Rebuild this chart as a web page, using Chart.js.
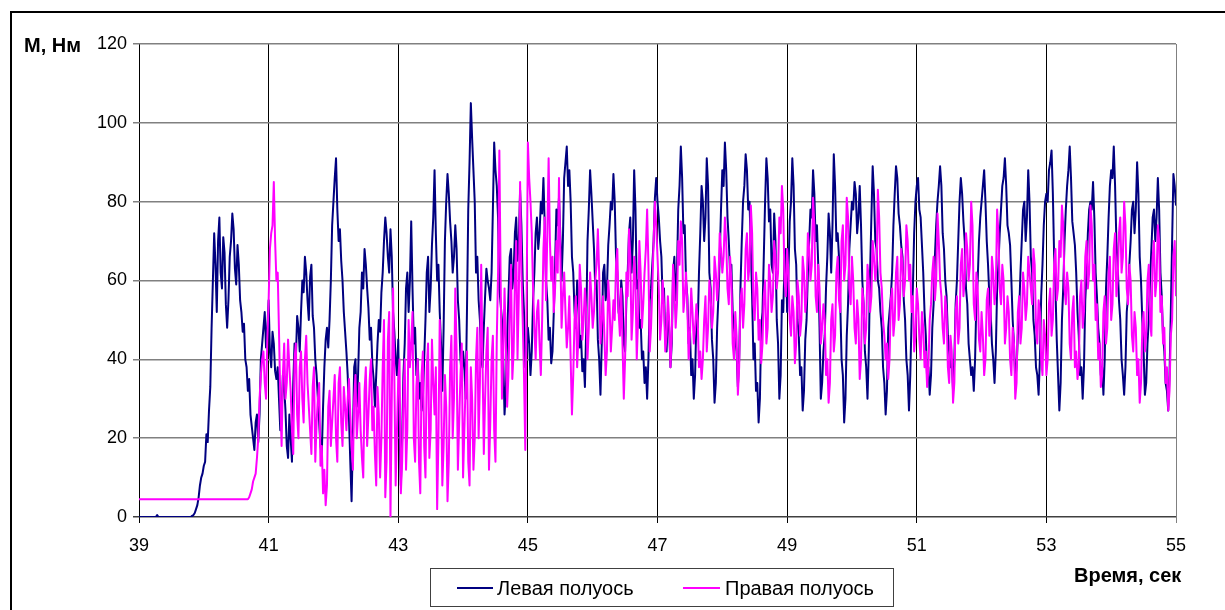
<!DOCTYPE html>
<html>
<head>
<meta charset="utf-8">
<script src="https://cdn.jsdelivr.net/npm/chart.js@4/dist/chart.umd.min.js"></script>
<style>
  html, body { margin:0; padding:0; background:#fff; }
  #wrap { width:1225px; height:610px; }
</style>
</head>
<body>
<div id="wrap"><canvas id="chart" width="1225" height="610"></canvas></div>
<script>
// Torque on the two half-axles, 39..55 s, about one sample every 0.02 s
const TIME_START = 39;
const TIME_END = 55;
const X_TICKS = [39, 41, 43, 45, 47, 49, 51, 53, 55];
const Y_TICKS = [0, 20, 40, 60, 80, 100, 120];
const SERIES_NAMES = ['Левая полуось', 'Правая полуось'];
const Y_TITLE = 'M, Нм';
const X_TITLE = 'Время, сек';

// Левая полуось (one line per second)
const leftAxle = [
  0,0,0,0,0,0,0,0,0,0,0,0,0,0,0.5,0,0,0,0,0,0,0,0,0,0,0,0,0,0,0,0,0,0,0,0,0,0,0,0,0,0,0.3,0.5,1,2,3,5,8,10,11, // 39
  13,14,21,19,27,33,48,60,72,64,52,70,76,62,58,71,67,54,48,55,66,70,77,73,63,59,69,64,55,52,47,49,40,38,32,35,26,23,20,17,24,26,19,26,40,44,48,52,43,48, // 40
  55,42,38,47,44,37,35,38,30,22,25,36,33,27,18,15,26,20,14,34,44,40,51,48,42,52,60,57,66,62,55,50,61,64,51,48,40,36,30,24,18,16,28,38,45,48,43,50,60,74, // 41
  80,86,91,78,70,73,65,60,52,47,42,36,25,14,4,20,38,40,28,36,48,52,62,58,68,64,58,53,45,48,39,35,28,36,44,50,47,57,62,70,76,72,66,62,73,66,52,47,40,36, // 42
  45,22,8,20,36,44,58,62,52,60,75,58,44,48,36,40,30,34,27,30,40,50,62,66,52,58,69,76,88,72,60,64,52,44,32,48,70,80,87,82,75,70,62,66,74,68,55,50,40,36, // 43
  42,38,30,52,78,90,105,96,88,80,62,66,55,50,40,38,48,56,63,60,58,55,62,78,95,88,84,76,58,54,50,40,26,32,45,56,66,68,58,62,72,76,65,70,83,74,60,52,38,42, // 44
  48,44,36,42,55,62,72,76,68,72,80,77,86,74,60,55,45,48,39,42,52,64,78,74,81,72,60,70,86,90,94,84,88,80,66,62,52,48,60,55,43,46,37,40,33,48,70,78,88,82, // 45
  75,68,58,60,45,40,31,44,62,64,55,58,69,74,80,78,87,80,66,62,52,50,60,56,44,42,55,62,72,76,62,70,88,78,58,60,48,50,40,42,34,38,30,40,55,58,64,70,81,86, // 46
  80,76,70,66,55,58,45,42,52,48,38,44,62,66,55,62,78,84,94,86,72,74,60,56,44,48,36,40,30,36,50,48,62,72,84,80,70,76,91,84,62,58,45,40,29,34,48,56,66,78, // 47
  88,84,95,88,76,70,62,64,52,48,45,42,33,40,58,70,80,84,92,88,78,80,68,56,40,44,32,34,24,30,48,52,66,80,91,86,75,78,64,62,77,70,50,44,30,36,55,52,65,68, // 48
  52,62,75,80,91,84,68,64,50,46,36,38,27,32,45,50,62,70,78,76,88,82,70,74,64,48,30,34,42,46,58,66,77,72,62,74,92,84,70,72,66,54,40,36,24,30,46,54,68,74, // 49
  80,78,85,82,72,76,84,74,60,54,42,38,30,42,62,76,89,82,70,68,60,58,52,48,38,34,26,32,48,52,56,62,74,82,89,86,77,74,69,66,55,50,40,36,27,36,50,58,72,80, // 50
  84,86,78,76,69,62,52,46,35,38,31,36,48,54,66,74,80,84,89,84,72,68,60,56,46,42,38,40,32,40,54,60,70,80,86,82,75,70,58,54,44,40,36,38,32,40,55,60,70,76, // 51
  80,84,88,80,70,64,56,52,44,40,34,42,58,64,72,78,84,86,91,84,74,72,69,60,50,44,35,38,46,52,62,70,78,80,70,76,88,80,66,62,50,46,38,36,31,40,56,64,74,80, // 52
  82,80,88,90,93,82,66,58,45,36,27,34,50,58,70,78,84,88,94,86,75,72,69,62,52,46,36,38,30,38,55,62,72,78,80,78,85,76,62,56,48,44,36,38,31,40,58,66,76,84, // 53
  88,86,94,84,70,64,55,50,40,36,31,38,52,56,64,70,78,80,72,78,90,82,66,60,50,42,31,34,44,50,60,68,76,78,70,76,86,78,62,56,46,42,34,32,27,36,52,70,87,84, // 54
  79 // 55
];

// Правая полуось
const rightAxle = [
  4.5,4.5,4.5,4.5,4.5,4.5,4.5,4.5,4.5,4.5,4.5,4.5,4.5,4.5,4.5,4.5,4.5,4.5,4.5,4.5,4.5,4.5,4.5,4.5,4.5,
  4.5,4.5,4.5,4.5,4.5,4.5,4.5,4.5,4.5,4.5,4.5,4.5,4.5,4.5,4.5,4.5,4.5,4.5,4.5,4.5,4.5,4.5,4.5,4.5,4.5, // 39
  4.5,4.5,4.5,4.5,4.5,4.5,4.5,4.5,4.5,4.5,4.5,4.5,4.5,4.5,4.5,4.5,4.5,4.5,4.5,4.5,4.5,4.5,4.5,4.5,4.5,
  4.5,4.5,4.5,4.5,4.5,4.5,4.5,4.5,4.5,4.5,5,6,7,9,10,11,15,20,30,36,40,42,34,30,45, // 40
  55,68,72,74,85,70,60,62,47,30,18,36,44,30,34,45,38,32,22,16,40,44,26,20,38,42,30,24,40,46,34,28,22,16,33,38,14,24,30,34,13,18,6,12,3,8,28,32,18,24, // 41
  30,36,20,14,34,38,24,18,33,28,22,30,35,26,18,12,30,36,20,26,34,22,15,10,32,38,18,26,35,40,22,28,16,8,33,26,10,20,38,50,5,14,45,52,0,30,58,35,8,22, // 42
  35,40,6,14,30,40,12,22,50,38,44,52,20,14,33,40,14,6,36,42,18,10,38,44,15,22,45,34,26,38,2,20,50,35,8,18,36,28,4,14,38,46,20,30,58,42,12,24,36,44, // 43
  10,22,34,42,14,8,38,30,12,20,40,48,20,34,64,40,16,30,42,48,12,24,40,46,22,14,45,62,93,60,30,42,58,44,28,36,52,64,35,42,60,70,40,56,85,62,50,36,17,54, // 44
  95,86,80,72,58,48,40,52,55,44,36,50,68,76,55,72,91,70,60,66,52,58,70,62,86,68,48,56,62,52,43,48,56,40,26,36,50,56,38,46,64,58,45,50,58,52,40,48,62,56, // 45
  48,52,60,64,73,62,44,50,56,46,36,42,60,54,42,48,55,50,64,68,52,46,58,44,30,40,62,56,73,66,45,52,66,60,40,50,70,62,48,54,62,68,78,64,42,48,58,70,80,74, // 46
  66,58,45,50,60,54,42,46,56,50,38,46,64,58,48,54,70,64,75,70,52,56,62,54,40,46,58,52,44,48,54,50,38,42,35,40,50,56,42,48,60,56,48,52,66,62,55,60,72,68, // 47
  62,66,76,70,58,54,66,60,44,40,52,46,31,38,55,58,48,54,68,72,60,64,79,72,54,50,62,58,45,50,39,44,56,60,44,48,64,60,52,56,70,66,58,62,76,72,84,78,60,56, // 48
  68,62,50,46,56,52,39,44,60,56,46,50,66,62,52,56,72,68,60,64,81,74,56,52,64,58,44,48,54,50,36,40,29,34,50,54,42,46,62,66,55,52,70,74,60,64,81,76,58,54, // 49
  66,60,48,44,55,50,35,40,58,54,44,48,64,60,52,56,70,66,60,64,83,76,62,58,50,46,40,44,35,40,55,58,46,50,62,66,50,54,68,64,56,60,74,70,60,64,52,56,42,46, // 50
  58,54,45,40,52,48,38,42,33,38,50,54,62,66,55,60,77,70,60,56,48,44,56,52,38,34,46,42,29,34,52,56,44,48,64,68,56,60,72,68,60,64,80,74,54,50,62,58,45,42, // 51
  52,46,36,40,55,58,46,50,66,62,54,58,78,72,58,54,64,60,44,48,56,52,40,36,48,44,30,34,52,56,44,48,62,58,50,54,66,62,58,54,68,64,48,44,55,52,40,36,50,46, // 52
  36,40,54,58,46,50,64,68,55,58,70,66,79,74,58,54,62,58,44,40,52,56,38,42,35,38,56,60,48,52,66,70,58,62,79,74,60,64,50,54,40,44,33,36,52,56,44,48,62,66, // 53
  50,54,68,72,56,60,72,76,62,66,80,74,58,54,64,60,46,42,52,48,36,40,29,34,48,52,42,46,60,64,50,46,66,70,56,60,74,70,52,56,44,48,34,38,27,32,46,50,66,70, // 54
  56 // 55
];

const COLORS = ['#000080', '#ff00ff'];
const FONT = 'Arial, "Liberation Sans", sans-serif';

// samples are evenly spaced over the record
function toPoints(values){
  const step = (TIME_END - TIME_START) / (values.length - 1);
  return values.map((v, i) => ({ x: TIME_START + i * step, y: v }));
}

// frame, axis titles and the boxed legend
const decor = {
  id: 'decor',
  beforeDraw(chart){
    const c = chart.ctx;
    c.save();
    c.fillStyle = '#fff';
    c.fillRect(0, 0, chart.width, chart.height);
    c.restore();
  },
  afterDraw(chart){
    const c = chart.ctx;
    c.save();
    c.strokeStyle = '#000';
    c.lineWidth = 2;
    c.strokeRect(11, 12, chart.width + 40, chart.height + 40);

    c.fillStyle = '#000';
    c.textBaseline = 'middle';
    c.textAlign = 'left';
    c.font = 'bold 20px ' + FONT;
    c.fillText(Y_TITLE, 24, 46);
    c.fillText(X_TITLE, 1074, 576);

    // legend
    c.strokeStyle = '#404040';
    c.lineWidth = 1;
    c.strokeRect(430.5, 568.5, 463, 38);
    const items = [[457, 493, 497], [683, 720, 725]];
    c.font = '20px ' + FONT;
    items.forEach((it, i) => {
      c.strokeStyle = COLORS[i];
      c.lineWidth = 2;
      c.beginPath(); c.moveTo(it[0], 588); c.lineTo(it[1], 588); c.stroke();
      c.fillStyle = '#000';
      c.fillText(SERIES_NAMES[i], it[2], 589);
    });
    c.restore();
  }
};

new Chart(document.getElementById('chart'), {
  type: 'line',
  data: {
    datasets: [
      { label: SERIES_NAMES[0], data: toPoints(leftAxle), borderColor: COLORS[0], borderWidth: 2, borderJoinStyle: 'round', pointRadius: 0, order: 2 },
      { label: SERIES_NAMES[1], data: toPoints(rightAxle), borderColor: COLORS[1], borderWidth: 2, borderJoinStyle: 'round', pointRadius: 0, order: 1 }
    ]
  },
  options: {
    responsive: false,
    animation: false,
    layout: { padding: { left: 0, top: 44, right: 49, bottom: 0 } },
    plugins: { legend: { display: false }, tooltip: { enabled: false } },
    elements: { line: { tension: 0 } },
    scales: {
      x: {
        type: 'linear',
        min: TIME_START, max: TIME_END,
        afterBuildTicks(s){ s.ticks = X_TICKS.map(v => ({ value: v })); },
        afterFit(s){ s.height = 93; },
        ticks: { color: '#000', font: { family: FONT, size: 18 }, padding: 12, maxRotation: 0, autoSkip: false,
                 callback: v => String(v) },
        grid: { color: ctx => ctx.tick && ctx.tick.value === 55 ? '#808080' : '#000', lineWidth: 1, tickLength: 6 },
        border: { display: false }
      },
      y: {
        min: Y_TICKS[0], max: Y_TICKS[Y_TICKS.length - 1],
        afterBuildTicks(s){ s.ticks = Y_TICKS.map(v => ({ value: v })); },
        afterFit(s){ s.width = 139; },
        ticks: { color: '#000', font: { family: FONT, size: 18 }, padding: 6 },
        grid: { color: ctx => ctx.tick && ctx.tick.value === 0 ? '#404040' : '#808080', lineWidth: 1.5, tickLength: 6 },
        border: { display: false }
      }
    }
  },
  plugins: [decor]
});
</script>
</body>
</html>
